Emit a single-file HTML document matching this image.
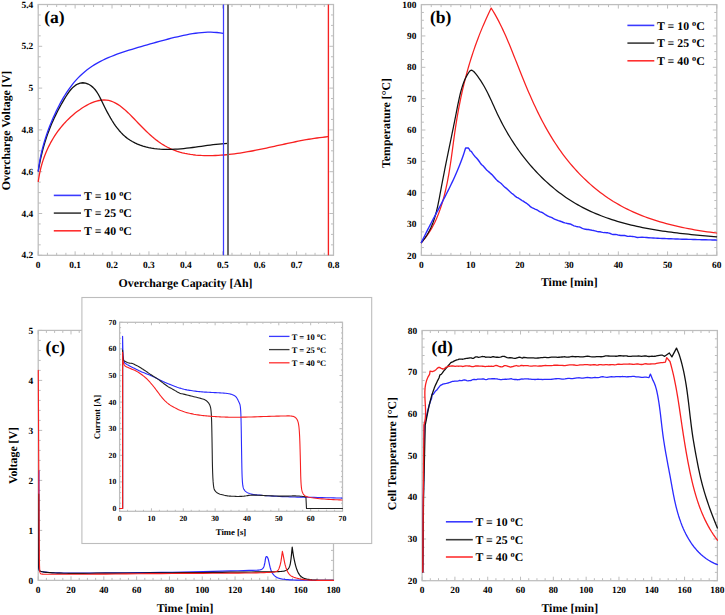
<!DOCTYPE html>
<html><head><meta charset="utf-8"><style>
html,body{margin:0;padding:0;background:#fff;}
svg{display:block;}
text{font-family:"Liberation Serif", serif;font-weight:bold;fill:#000;text-rendering:geometricPrecision;}
</style></head><body>
<svg width="725" height="615" viewBox="0 0 725 615">
<rect width="725" height="615" fill="#fff"/>
<rect x="38.2" y="4.5" width="295.3" height="250.8" fill="none" stroke="#bdbdbd" stroke-width="1.25"/>
<path d="M38.20,255.3 v-4 M38.20,4.5 v4 M47.43,255.3 v-2.5 M47.43,4.5 v2.5 M56.66,255.3 v-2.5 M56.66,4.5 v2.5 M65.88,255.3 v-2.5 M65.88,4.5 v2.5 M75.11,255.3 v-4 M75.11,4.5 v4 M84.34,255.3 v-2.5 M84.34,4.5 v2.5 M93.57,255.3 v-2.5 M93.57,4.5 v2.5 M102.80,255.3 v-2.5 M102.80,4.5 v2.5 M112.03,255.3 v-4 M112.03,4.5 v4 M121.25,255.3 v-2.5 M121.25,4.5 v2.5 M130.48,255.3 v-2.5 M130.48,4.5 v2.5 M139.71,255.3 v-2.5 M139.71,4.5 v2.5 M148.94,255.3 v-4 M148.94,4.5 v4 M158.17,255.3 v-2.5 M158.17,4.5 v2.5 M167.39,255.3 v-2.5 M167.39,4.5 v2.5 M176.62,255.3 v-2.5 M176.62,4.5 v2.5 M185.85,255.3 v-4 M185.85,4.5 v4 M195.08,255.3 v-2.5 M195.08,4.5 v2.5 M204.31,255.3 v-2.5 M204.31,4.5 v2.5 M213.53,255.3 v-2.5 M213.53,4.5 v2.5 M222.76,255.3 v-4 M222.76,4.5 v4 M231.99,255.3 v-2.5 M231.99,4.5 v2.5 M241.22,255.3 v-2.5 M241.22,4.5 v2.5 M250.45,255.3 v-2.5 M250.45,4.5 v2.5 M259.68,255.3 v-4 M259.68,4.5 v4 M268.90,255.3 v-2.5 M268.90,4.5 v2.5 M278.13,255.3 v-2.5 M278.13,4.5 v2.5 M287.36,255.3 v-2.5 M287.36,4.5 v2.5 M296.59,255.3 v-4 M296.59,4.5 v4 M305.82,255.3 v-2.5 M305.82,4.5 v2.5 M315.04,255.3 v-2.5 M315.04,4.5 v2.5 M324.27,255.3 v-2.5 M324.27,4.5 v2.5 M333.50,255.3 v-4 M333.50,4.5 v4 M38.2,255.30 h4 M333.5,255.30 h-4 M38.2,244.85 h2.5 M333.5,244.85 h-2.5 M38.2,234.40 h2.5 M333.5,234.40 h-2.5 M38.2,223.95 h2.5 M333.5,223.95 h-2.5 M38.2,213.50 h4 M333.5,213.50 h-4 M38.2,203.05 h2.5 M333.5,203.05 h-2.5 M38.2,192.60 h2.5 M333.5,192.60 h-2.5 M38.2,182.15 h2.5 M333.5,182.15 h-2.5 M38.2,171.70 h4 M333.5,171.70 h-4 M38.2,161.25 h2.5 M333.5,161.25 h-2.5 M38.2,150.80 h2.5 M333.5,150.80 h-2.5 M38.2,140.35 h2.5 M333.5,140.35 h-2.5 M38.2,129.90 h4 M333.5,129.90 h-4 M38.2,119.45 h2.5 M333.5,119.45 h-2.5 M38.2,109.00 h2.5 M333.5,109.00 h-2.5 M38.2,98.55 h2.5 M333.5,98.55 h-2.5 M38.2,88.10 h4 M333.5,88.10 h-4 M38.2,77.65 h2.5 M333.5,77.65 h-2.5 M38.2,67.20 h2.5 M333.5,67.20 h-2.5 M38.2,56.75 h2.5 M333.5,56.75 h-2.5 M38.2,46.30 h4 M333.5,46.30 h-4 M38.2,35.85 h2.5 M333.5,35.85 h-2.5 M38.2,25.40 h2.5 M333.5,25.40 h-2.5 M38.2,14.95 h2.5 M333.5,14.95 h-2.5 M38.2,4.50 h4 M333.5,4.50 h-4 " stroke="#bdbdbd" stroke-width="1" fill="none"/>
<text x="38.20" y="267.90" font-size="9.4" text-anchor="middle">0</text>
<text x="75.11" y="267.90" font-size="9.4" text-anchor="middle">0.1</text>
<text x="112.03" y="267.90" font-size="9.4" text-anchor="middle">0.2</text>
<text x="148.94" y="267.90" font-size="9.4" text-anchor="middle">0.3</text>
<text x="185.85" y="267.90" font-size="9.4" text-anchor="middle">0.4</text>
<text x="222.76" y="267.90" font-size="9.4" text-anchor="middle">0.5</text>
<text x="259.67" y="267.90" font-size="9.4" text-anchor="middle">0.6</text>
<text x="296.59" y="267.90" font-size="9.4" text-anchor="middle">0.7</text>
<text x="333.50" y="267.90" font-size="9.4" text-anchor="middle">0.8</text>
<text x="33.20" y="258.40" font-size="9.4" text-anchor="end">4.2</text>
<text x="33.20" y="216.60" font-size="9.4" text-anchor="end">4.4</text>
<text x="33.20" y="174.80" font-size="9.4" text-anchor="end">4.6</text>
<text x="33.20" y="133.00" font-size="9.4" text-anchor="end">4.8</text>
<text x="33.20" y="91.20" font-size="9.4" text-anchor="end">5</text>
<text x="33.20" y="49.40" font-size="9.4" text-anchor="end">5.2</text>
<text x="33.20" y="7.60" font-size="9.4" text-anchor="end">5.4</text>
<path d="M38.30,181.40 L38.68,178.73 L39.12,176.06 L39.62,173.41 L40.19,170.77 L40.81,168.14 L41.50,165.52 L42.25,162.93 L43.06,160.35 L43.94,157.79 L44.87,155.25 L45.87,152.74 L46.94,150.25 L48.07,147.78 L49.26,145.35 L50.51,142.94 L51.83,140.57 L53.21,138.23 L54.66,135.93 L56.17,133.66 L57.74,131.43 L59.39,129.24 L61.09,127.09 L62.86,124.99 L64.70,122.93 L66.60,120.91 L68.57,118.95 L70.60,117.03 L72.70,115.17 L74.87,113.36 L77.10,111.60 L79.40,109.91 L81.76,108.28 L84.16,106.75 L86.61,105.33 L89.08,104.03 L91.57,102.88 L94.08,101.90 L96.58,101.09 L99.07,100.50 L101.55,100.12 L103.99,99.98 L106.39,100.09 L108.75,100.48 L111.06,101.12 L113.33,101.99 L115.56,103.07 L117.76,104.35 L119.92,105.80 L122.05,107.40 L124.15,109.13 L126.22,110.98 L128.28,112.91 L130.31,114.91 L132.33,116.97 L134.33,119.05 L136.33,121.14 L138.31,123.22 L140.29,125.28 L142.27,127.30 L144.26,129.28 L146.25,131.23 L148.26,133.12 L150.28,134.97 L152.32,136.76 L154.38,138.48 L156.47,140.14 L158.60,141.73 L160.76,143.24 L162.96,144.67 L165.21,146.01 L167.51,147.27 L169.86,148.42 L172.26,149.48 L174.72,150.44 L177.23,151.31 L179.78,152.09 L182.37,152.78 L185.00,153.38 L187.67,153.91 L190.36,154.36 L193.08,154.73 L195.82,155.04 L198.58,155.28 L201.36,155.46 L204.15,155.57 L206.94,155.63 L209.74,155.64 L212.53,155.60 L215.33,155.51 L218.11,155.38 L220.88,155.20 L223.64,154.99 L226.39,154.75 L229.12,154.47 L231.84,154.16 L234.55,153.82 L237.25,153.45 L239.95,153.05 L242.63,152.63 L245.31,152.19 L247.97,151.73 L250.63,151.24 L253.29,150.74 L255.94,150.22 L258.58,149.69 L261.23,149.15 L263.86,148.59 L266.50,148.03 L269.13,147.46 L271.76,146.88 L274.39,146.30 L277.02,145.72 L279.66,145.14 L282.29,144.56 L284.92,143.99 L287.56,143.41 L290.20,142.85 L292.85,142.30 L295.50,141.75 L298.15,141.22 L300.81,140.70 L303.48,140.20 L306.16,139.72 L308.84,139.25 L311.53,138.81 L314.23,138.39 L316.94,138.00 L319.66,137.63 L322.40,137.29 L325.14,136.98 L327.90,136.70" stroke="#f82020" stroke-width="1.3" fill="none" stroke-linejoin="round" stroke-linecap="round"/>
<path d="M38.30,171.00 L38.81,168.01 L39.35,165.05 L39.92,162.12 L40.52,159.22 L41.16,156.35 L41.84,153.50 L42.55,150.67 L43.30,147.86 L44.09,145.08 L44.91,142.31 L45.78,139.56 L46.69,136.83 L47.64,134.11 L48.63,131.41 L49.66,128.71 L50.74,126.03 L51.86,123.35 L53.03,120.68 L54.25,118.02 L55.51,115.36 L56.82,112.70 L58.19,110.05 L59.60,107.39 L61.06,104.73 L62.58,102.07 L64.15,99.40 L65.77,96.73 L67.46,94.10 L69.24,91.58 L71.13,89.24 L73.14,87.15 L75.30,85.39 L77.63,84.02 L80.15,83.11 L82.83,82.76 L85.54,83.09 L88.18,84.05 L90.68,85.51 L92.98,87.37 L95.01,89.49 L96.74,91.79 L98.25,94.24 L99.61,96.78 L100.91,99.41 L102.20,102.07 L103.52,104.76 L104.86,107.46 L106.24,110.17 L107.65,112.87 L109.11,115.54 L110.61,118.18 L112.18,120.77 L113.81,123.31 L115.50,125.77 L117.28,128.16 L119.13,130.45 L121.07,132.63 L123.11,134.69 L125.24,136.63 L127.48,138.42 L129.83,140.06 L132.29,141.54 L134.84,142.88 L137.48,144.07 L140.19,145.13 L142.96,146.05 L145.78,146.85 L148.64,147.53 L151.52,148.09 L154.42,148.55 L157.32,148.90 L160.24,149.15 L163.16,149.32 L166.09,149.41 L169.02,149.41 L171.96,149.35 L174.90,149.22 L177.84,149.04 L180.79,148.81 L183.73,148.53 L186.68,148.21 L189.63,147.86 L192.58,147.49 L195.52,147.10 L198.47,146.69 L201.41,146.28 L204.34,145.88 L207.27,145.47 L210.20,145.08 L213.12,144.72 L216.03,144.37 L218.94,144.07 L221.83,143.80 L224.72,143.57 L227.60,143.40" stroke="#111111" stroke-width="1.3" fill="none" stroke-linejoin="round" stroke-linecap="round"/>
<path d="M38.30,171.00 L38.67,167.96 L39.09,164.92 L39.58,161.89 L40.13,158.86 L40.74,155.83 L41.40,152.81 L42.12,149.80 L42.89,146.80 L43.71,143.80 L44.59,140.81 L45.52,137.83 L46.50,134.86 L47.53,131.91 L48.61,128.96 L49.74,126.03 L50.91,123.12 L52.12,120.21 L53.38,117.33 L54.69,114.46 L56.03,111.60 L57.42,108.77 L58.84,105.95 L60.31,103.16 L61.83,100.40 L63.40,97.68 L65.02,95.00 L66.69,92.37 L68.43,89.79 L70.23,87.27 L72.09,84.81 L74.02,82.43 L76.02,80.12 L78.10,77.89 L80.25,75.74 L82.47,73.68 L84.77,71.71 L87.13,69.82 L89.57,68.01 L92.07,66.30 L94.63,64.67 L97.26,63.12 L99.94,61.66 L102.68,60.26 L105.46,58.94 L108.29,57.68 L111.16,56.48 L114.07,55.33 L117.00,54.23 L119.97,53.17 L122.96,52.16 L125.97,51.17 L128.99,50.22 L132.02,49.29 L135.06,48.38 L138.11,47.48 L141.15,46.59 L144.19,45.71 L147.22,44.83 L150.25,43.96 L153.27,43.10 L156.29,42.25 L159.31,41.41 L162.33,40.59 L165.34,39.78 L168.35,39.00 L171.37,38.23 L174.38,37.49 L177.40,36.77 L180.42,36.08 L183.44,35.42 L186.46,34.79 L189.49,34.22 L192.53,33.70 L195.56,33.25 L198.61,32.86 L201.65,32.56 L204.71,32.34 L207.77,32.22 L210.84,32.19 L213.92,32.28 L217.00,32.49 L220.10,32.83 L223.20,33.30" stroke="#2a2aff" stroke-width="1.3" fill="none" stroke-linejoin="round" stroke-linecap="round"/>
<path d="M223.5,4.5 V255.3" stroke="#3c3cff" stroke-width="1.25"/>
<path d="M228,4.5 V255.3" stroke="#6a6a6a" stroke-width="2"/>
<path d="M328.4,4.5 V255.3" stroke="#f52222" stroke-width="1.35"/>
<path d="M53.8,195.4 H81" stroke="#3a3aff" stroke-width="1.6"/>
<text x="84.1" y="199.79" font-size="11.8">T = 10 <tspan font-size="8.26" dy="-4.25">o</tspan><tspan dy="4.25">C</tspan></text>
<path d="M53.8,213.1 H81" stroke="#3c3c3c" stroke-width="1.6"/>
<text x="84.1" y="217.49" font-size="11.8">T = 25 <tspan font-size="8.26" dy="-4.25">o</tspan><tspan dy="4.25">C</tspan></text>
<path d="M53.8,230.8 H81" stroke="#ff3030" stroke-width="1.6"/>
<text x="84.1" y="235.19" font-size="11.8">T = 40 <tspan font-size="8.26" dy="-4.25">o</tspan><tspan dy="4.25">C</tspan></text>
<text x="185.5" y="286.71" font-size="11.85" text-anchor="middle">Overcharge Capacity [Ah]</text>
<text transform="translate(6,130.5) rotate(-90)" x="0" y="3.91" font-size="11.85" text-anchor="middle">Overcharge Voltage [V]</text>
<text x="44.2" y="22.9" font-size="17.5">(a)</text>
<rect x="421.4" y="4.6" width="295.4" height="250.8" fill="none" stroke="#bdbdbd" stroke-width="1.25"/>
<path d="M421.40,255.4 v-4 M421.40,4.6 v4 M431.25,255.4 v-2.5 M431.25,4.6 v2.5 M441.09,255.4 v-2.5 M441.09,4.6 v2.5 M450.94,255.4 v-2.5 M450.94,4.6 v2.5 M460.79,255.4 v-2.5 M460.79,4.6 v2.5 M470.63,255.4 v-4 M470.63,4.6 v4 M480.48,255.4 v-2.5 M480.48,4.6 v2.5 M490.33,255.4 v-2.5 M490.33,4.6 v2.5 M500.17,255.4 v-2.5 M500.17,4.6 v2.5 M510.02,255.4 v-2.5 M510.02,4.6 v2.5 M519.87,255.4 v-4 M519.87,4.6 v4 M529.71,255.4 v-2.5 M529.71,4.6 v2.5 M539.56,255.4 v-2.5 M539.56,4.6 v2.5 M549.41,255.4 v-2.5 M549.41,4.6 v2.5 M559.25,255.4 v-2.5 M559.25,4.6 v2.5 M569.10,255.4 v-4 M569.10,4.6 v4 M578.95,255.4 v-2.5 M578.95,4.6 v2.5 M588.79,255.4 v-2.5 M588.79,4.6 v2.5 M598.64,255.4 v-2.5 M598.64,4.6 v2.5 M608.49,255.4 v-2.5 M608.49,4.6 v2.5 M618.33,255.4 v-4 M618.33,4.6 v4 M628.18,255.4 v-2.5 M628.18,4.6 v2.5 M638.03,255.4 v-2.5 M638.03,4.6 v2.5 M647.87,255.4 v-2.5 M647.87,4.6 v2.5 M657.72,255.4 v-2.5 M657.72,4.6 v2.5 M667.57,255.4 v-4 M667.57,4.6 v4 M677.41,255.4 v-2.5 M677.41,4.6 v2.5 M687.26,255.4 v-2.5 M687.26,4.6 v2.5 M697.11,255.4 v-2.5 M697.11,4.6 v2.5 M706.95,255.4 v-2.5 M706.95,4.6 v2.5 M716.80,255.4 v-4 M716.80,4.6 v4 M421.4,255.40 h4 M716.8,255.40 h-4 M421.4,247.56 h2.5 M716.8,247.56 h-2.5 M421.4,239.72 h2.5 M716.8,239.72 h-2.5 M421.4,231.89 h2.5 M716.8,231.89 h-2.5 M421.4,224.05 h4 M716.8,224.05 h-4 M421.4,216.21 h2.5 M716.8,216.21 h-2.5 M421.4,208.38 h2.5 M716.8,208.38 h-2.5 M421.4,200.54 h2.5 M716.8,200.54 h-2.5 M421.4,192.70 h4 M716.8,192.70 h-4 M421.4,184.86 h2.5 M716.8,184.86 h-2.5 M421.4,177.03 h2.5 M716.8,177.03 h-2.5 M421.4,169.19 h2.5 M716.8,169.19 h-2.5 M421.4,161.35 h4 M716.8,161.35 h-4 M421.4,153.51 h2.5 M716.8,153.51 h-2.5 M421.4,145.68 h2.5 M716.8,145.68 h-2.5 M421.4,137.84 h2.5 M716.8,137.84 h-2.5 M421.4,130.00 h4 M716.8,130.00 h-4 M421.4,122.16 h2.5 M716.8,122.16 h-2.5 M421.4,114.32 h2.5 M716.8,114.32 h-2.5 M421.4,106.49 h2.5 M716.8,106.49 h-2.5 M421.4,98.65 h4 M716.8,98.65 h-4 M421.4,90.81 h2.5 M716.8,90.81 h-2.5 M421.4,82.97 h2.5 M716.8,82.97 h-2.5 M421.4,75.14 h2.5 M716.8,75.14 h-2.5 M421.4,67.30 h4 M716.8,67.30 h-4 M421.4,59.46 h2.5 M716.8,59.46 h-2.5 M421.4,51.62 h2.5 M716.8,51.62 h-2.5 M421.4,43.79 h2.5 M716.8,43.79 h-2.5 M421.4,35.95 h4 M716.8,35.95 h-4 M421.4,28.11 h2.5 M716.8,28.11 h-2.5 M421.4,20.28 h2.5 M716.8,20.28 h-2.5 M421.4,12.44 h2.5 M716.8,12.44 h-2.5 M421.4,4.60 h4 M716.8,4.60 h-4 " stroke="#bdbdbd" stroke-width="1" fill="none"/>
<text x="421.40" y="268.00" font-size="9.4" text-anchor="middle">0</text>
<text x="470.63" y="268.00" font-size="9.4" text-anchor="middle">10</text>
<text x="519.87" y="268.00" font-size="9.4" text-anchor="middle">20</text>
<text x="569.10" y="268.00" font-size="9.4" text-anchor="middle">30</text>
<text x="618.33" y="268.00" font-size="9.4" text-anchor="middle">40</text>
<text x="667.57" y="268.00" font-size="9.4" text-anchor="middle">50</text>
<text x="716.80" y="268.00" font-size="9.4" text-anchor="middle">60</text>
<text x="416.40" y="258.50" font-size="9.4" text-anchor="end">20</text>
<text x="416.40" y="227.15" font-size="9.4" text-anchor="end">30</text>
<text x="416.40" y="195.80" font-size="9.4" text-anchor="end">40</text>
<text x="416.40" y="164.45" font-size="9.4" text-anchor="end">50</text>
<text x="416.40" y="133.10" font-size="9.4" text-anchor="end">60</text>
<text x="416.40" y="101.75" font-size="9.4" text-anchor="end">70</text>
<text x="416.40" y="70.40" font-size="9.4" text-anchor="end">80</text>
<text x="416.40" y="39.05" font-size="9.4" text-anchor="end">90</text>
<text x="416.40" y="7.70" font-size="9.4" text-anchor="end">100</text>
<path d="M421.40,242.50 L423.42,240.18 L425.32,237.80 L427.12,235.38 L428.81,232.92 L430.40,230.41 L431.90,227.86 L433.31,225.28 L434.64,222.66 L435.89,220.01 L437.06,217.33 L438.17,214.62 L439.21,211.89 L440.20,209.14 L441.13,206.36 L442.01,203.57 L442.85,200.75 L443.64,197.93 L444.39,195.08 L445.10,192.23 L445.78,189.35 L446.42,186.47 L447.03,183.57 L447.61,180.66 L448.16,177.74 L448.68,174.82 L449.18,171.88 L449.66,168.93 L450.13,165.98 L450.57,163.02 L451.01,160.06 L451.43,157.09 L451.84,154.11 L452.25,151.14 L452.65,148.16 L453.05,145.18 L453.45,142.20 L453.86,139.22 L454.26,136.25 L454.68,133.27 L455.11,130.30 L455.54,127.33 L456.00,124.37 L456.47,121.41 L456.95,118.46 L457.45,115.51 L457.97,112.56 L458.50,109.63 L459.05,106.70 L459.62,103.77 L460.21,100.85 L460.81,97.94 L461.43,95.03 L462.07,92.12 L462.73,89.23 L463.41,86.34 L464.11,83.45 L464.83,80.57 L465.56,77.70 L466.32,74.83 L467.10,71.97 L467.89,69.12 L468.71,66.27 L469.55,63.43 L470.41,60.60 L471.30,57.77 L472.20,54.95 L473.13,52.14 L474.08,49.33 L475.05,46.53 L476.05,43.74 L477.06,40.95 L478.11,38.17 L479.17,35.40 L480.26,32.64 L481.38,29.88 L482.52,27.13 L483.68,24.39 L484.87,21.66 L486.08,18.93 L487.32,16.21 L488.59,13.50 L489.88,10.80 L491.20,8.10 L492.85,10.75 L494.44,13.43 L495.98,16.15 L497.48,18.89 L498.93,21.66 L500.34,24.46 L501.72,27.28 L503.06,30.12 L504.38,32.98 L505.66,35.86 L506.93,38.75 L508.17,41.66 L509.39,44.59 L510.60,47.53 L511.80,50.48 L512.98,53.44 L514.16,56.40 L515.33,59.38 L516.50,62.35 L517.68,65.34 L518.86,68.32 L520.04,71.30 L521.23,74.29 L522.43,77.27 L523.65,80.25 L524.87,83.23 L526.11,86.20 L527.36,89.17 L528.63,92.13 L529.91,95.09 L531.21,98.03 L532.53,100.97 L533.87,103.90 L535.23,106.81 L536.61,109.72 L538.01,112.61 L539.44,115.48 L540.89,118.35 L542.37,121.19 L543.87,124.02 L545.41,126.84 L546.97,129.63 L548.56,132.40 L550.19,135.16 L551.85,137.89 L553.54,140.60 L555.27,143.28 L557.03,145.94 L558.83,148.58 L560.67,151.19 L562.55,153.77 L564.47,156.33 L566.43,158.85 L568.42,161.34 L570.46,163.81 L572.53,166.23 L574.64,168.63 L576.79,170.99 L578.97,173.31 L581.19,175.60 L583.45,177.85 L585.75,180.06 L588.08,182.22 L590.45,184.35 L592.85,186.43 L595.29,188.47 L597.77,190.46 L600.28,192.41 L602.83,194.31 L605.41,196.16 L608.02,197.97 L610.67,199.72 L613.35,201.42 L616.07,203.06 L618.82,204.65 L621.60,206.19 L624.41,207.68 L627.25,209.12 L630.12,210.50 L633.02,211.84 L635.94,213.12 L638.88,214.36 L641.85,215.56 L644.84,216.71 L647.86,217.81 L650.89,218.87 L653.93,219.89 L657.00,220.87 L660.08,221.81 L663.17,222.71 L666.28,223.57 L669.39,224.39 L672.52,225.18 L675.66,225.93 L678.80,226.65 L681.95,227.34 L685.10,227.99 L688.26,228.62 L691.42,229.21 L694.58,229.77 L697.73,230.31 L700.89,230.82 L704.04,231.30 L707.19,231.76 L710.34,232.20 L713.47,232.61 L716.60,233.00" stroke="#f82020" stroke-width="1.25" fill="none" stroke-linejoin="round" stroke-linecap="round"/>
<path d="M421.40,242.50 L423.29,240.24 L425.03,237.91 L426.65,235.51 L428.13,233.05 L429.49,230.54 L430.75,227.97 L431.90,225.35 L432.95,222.70 L433.92,220.00 L434.80,217.27 L435.62,214.50 L436.37,211.72 L437.06,208.91 L437.71,206.08 L438.31,203.24 L438.88,200.40 L439.43,197.55 L439.96,194.70 L440.48,191.86 L441.00,189.03 L441.53,186.21 L442.06,183.40 L442.59,180.60 L443.13,177.81 L443.67,175.03 L444.21,172.26 L444.76,169.49 L445.31,166.73 L445.87,163.97 L446.42,161.21 L446.98,158.45 L447.55,155.69 L448.11,152.93 L448.68,150.17 L449.25,147.40 L449.82,144.62 L450.39,141.84 L450.97,139.05 L451.54,136.25 L452.12,133.44 L452.69,130.62 L453.27,127.78 L453.85,124.93 L454.43,122.07 L455.01,119.18 L455.58,116.28 L456.16,113.36 L456.74,110.42 L457.32,107.46 L457.90,104.49 L458.51,101.52 L459.14,98.57 L459.81,95.65 L460.51,92.76 L461.27,89.93 L462.09,87.15 L462.98,84.45 L463.95,81.84 L465.00,79.32 L466.14,76.91 L467.39,74.62 L468.75,72.46 L470.23,70.70 L471.89,70.15 L473.75,71.48 L475.63,73.68 L477.40,75.96 L479.09,78.29 L480.69,80.67 L482.22,83.08 L483.68,85.53 L485.07,88.02 L486.42,90.54 L487.71,93.08 L488.97,95.65 L490.20,98.23 L491.41,100.82 L492.60,103.43 L493.79,106.05 L494.98,108.66 L496.17,111.28 L497.39,113.89 L498.63,116.49 L499.90,119.08 L501.20,121.65 L502.53,124.22 L503.90,126.76 L505.30,129.29 L506.73,131.81 L508.20,134.31 L509.69,136.79 L511.22,139.25 L512.78,141.69 L514.37,144.11 L515.99,146.51 L517.64,148.88 L519.32,151.24 L521.03,153.57 L522.77,155.88 L524.54,158.16 L526.34,160.42 L528.17,162.65 L530.03,164.85 L531.92,167.03 L533.83,169.17 L535.78,171.29 L537.75,173.38 L539.76,175.43 L541.79,177.46 L543.85,179.45 L545.93,181.41 L548.05,183.33 L550.19,185.22 L552.36,187.07 L554.55,188.89 L556.77,190.67 L559.02,192.41 L561.30,194.12 L563.60,195.78 L565.93,197.41 L568.28,198.99 L570.66,200.53 L573.06,202.03 L575.49,203.49 L577.95,204.90 L580.43,206.27 L582.93,207.60 L585.46,208.88 L588.01,210.12 L590.58,211.33 L593.17,212.49 L595.78,213.61 L598.42,214.69 L601.07,215.74 L603.73,216.75 L606.42,217.73 L609.12,218.67 L611.84,219.57 L614.57,220.45 L617.32,221.29 L620.08,222.10 L622.85,222.87 L625.63,223.62 L628.43,224.34 L631.24,225.03 L634.05,225.70 L636.88,226.34 L639.71,226.95 L642.55,227.53 L645.40,228.10 L648.25,228.64 L651.11,229.15 L653.98,229.65 L656.84,230.13 L659.71,230.58 L662.59,231.02 L665.46,231.44 L668.33,231.84 L671.21,232.22 L674.08,232.59 L676.96,232.94 L679.83,233.28 L682.69,233.61 L685.56,233.92 L688.42,234.23 L691.27,234.52 L694.12,234.80 L696.96,235.07 L699.79,235.34 L702.62,235.60 L705.44,235.85 L708.24,236.09 L711.04,236.33 L713.83,236.57 L716.60,236.80" stroke="#111111" stroke-width="1.25" fill="none" stroke-linejoin="round" stroke-linecap="round"/>
<path d="M421.40,242.50 L422.44,240.31 L423.50,238.13 L424.57,235.95 L425.65,233.77 L426.74,231.60 L427.84,229.44 L428.95,227.27 L430.06,225.11 L431.18,222.96 L432.31,220.80 L433.45,218.65 L434.58,216.50 L435.72,214.35 L436.86,212.20 L438.00,210.05 L439.14,207.90 L440.27,205.74 L441.41,203.59 L442.54,201.43 L443.66,199.28 L444.78,197.12 L445.89,194.95 L446.99,192.79 L448.08,190.61 L449.16,188.44 L450.23,186.26 L451.29,184.07 L452.33,181.88 L453.36,179.68 L454.37,177.48 L455.37,175.27 L456.34,173.05 L457.30,170.82 L458.24,168.58 L459.16,166.34 L460.05,164.08 L460.92,161.82 L461.77,159.54 L462.59,157.26 L463.39,154.96 L464.15,152.65 L464.89,150.33 L465.60,148.00 L468.30,148.00 L469.58,149.64 L470.00,150.89 L471.30,151.41 L472.60,153.34 L473.90,155.16 L475.20,156.71 L476.50,157.97 L477.80,159.47 L479.10,161.26 L480.40,163.18 L481.70,164.75 L483.00,165.82 L484.30,167.19 L485.60,168.77 L486.90,170.18 L488.20,171.34 L489.50,172.40 L490.80,173.63 L492.10,174.82 L493.40,176.20 L494.70,177.73 L496.00,179.30 L497.30,180.63 L498.60,181.59 L499.90,182.49 L501.20,183.53 L502.50,184.87 L503.80,186.32 L505.10,187.43 L506.40,188.37 L507.70,189.44 L509.00,190.85 L510.30,192.09 L511.60,193.21 L512.90,194.09 L514.20,195.20 L515.50,196.43 L516.80,197.32 L518.10,197.89 L519.40,198.74 L520.70,199.64 L522.00,200.51 L523.30,201.14 L524.60,202.09 L525.90,202.87 L527.20,203.79 L528.50,204.86 L529.80,206.12 L531.10,207.16 L532.40,207.84 L533.70,208.46 L535.00,209.04 L536.30,209.58 L537.60,210.21 L538.90,211.12 L540.20,211.82 L541.50,212.23 L542.80,212.91 L544.10,213.78 L545.40,214.65 L546.70,215.32 L548.00,216.21 L549.30,216.71 L550.60,217.06 L551.90,217.58 L553.20,218.36 L554.50,219.04 L555.80,219.56 L557.10,220.06 L558.40,220.68 L559.70,221.03 L561.00,221.47 L562.30,222.01 L563.60,222.52 L564.90,222.84 L566.20,223.08 L567.50,223.54 L568.80,223.75 L570.10,223.97 L571.40,224.51 L572.70,225.18 L574.00,225.80 L575.30,226.20 L576.60,226.58 L577.90,226.79 L579.20,226.90 L580.50,227.39 L581.80,228.03 L583.10,228.62 L584.40,228.96 L585.70,229.23 L587.00,229.49 L588.30,229.51 L589.60,229.79 L590.90,230.01 L592.20,230.34 L593.50,230.44 L594.80,230.80 L596.10,231.20 L597.40,231.58 L598.70,231.72 L600.00,231.74 L601.30,232.08 L602.60,232.40 L603.90,232.65 L605.20,232.57 L606.50,232.73 L607.80,232.82 L609.10,233.11 L610.40,233.53 L611.70,234.16 L613.00,234.51 L614.30,234.46 L615.60,234.45 L616.90,234.68 L618.20,235.09 L619.50,235.24 L620.80,235.48 L622.10,235.52 L623.40,235.49 L624.70,235.46 L626.00,235.85 L627.30,236.24 L628.60,236.34 L629.90,236.26 L631.20,236.36 L632.50,236.48 L633.80,236.60 L635.10,236.87 L636.40,237.26 L637.70,237.49 L639.00,237.38 L642.11,237.25 L644.34,237.41 L646.57,237.57 L648.79,237.72 L651.02,237.86 L653.25,237.99 L655.47,238.11 L657.70,238.23 L659.92,238.34 L662.14,238.45 L664.36,238.55 L666.58,238.64 L668.80,238.73 L671.02,238.82 L673.23,238.89 L675.44,238.97 L677.65,239.04 L679.85,239.11 L682.05,239.18 L684.25,239.24 L686.44,239.30 L688.63,239.36 L690.81,239.41 L692.99,239.47 L695.17,239.52 L697.34,239.58 L699.50,239.63 L701.66,239.69 L703.81,239.74 L705.96,239.80 L708.10,239.85 L710.24,239.91 L712.36,239.97 L714.48,240.03 L716.60,240.10" stroke="#2a2aff" stroke-width="1.4" fill="none" stroke-linejoin="round" stroke-linecap="round"/>
<path d="M627.4,25.4 H654.3" stroke="#3a3aff" stroke-width="1.6"/>
<text x="657" y="29.79" font-size="11.8">T = 10 <tspan font-size="8.26" dy="-4.25">o</tspan><tspan dy="4.25">C</tspan></text>
<path d="M627.4,43.1 H654.3" stroke="#3c3c3c" stroke-width="1.6"/>
<text x="657" y="47.49" font-size="11.8">T = 25 <tspan font-size="8.26" dy="-4.25">o</tspan><tspan dy="4.25">C</tspan></text>
<path d="M627.4,60.8 H654.3" stroke="#ff3030" stroke-width="1.6"/>
<text x="657" y="65.19" font-size="11.8">T = 40 <tspan font-size="8.26" dy="-4.25">o</tspan><tspan dy="4.25">C</tspan></text>
<text x="569.3" y="286.41" font-size="11.85" text-anchor="middle">Time [min]</text>
<text transform="translate(386,123) rotate(-90)" x="0" y="3.91" font-size="11.85" text-anchor="middle">Temperature [°C]</text>
<text x="430" y="23.1" font-size="17.5">(b)</text>
<rect x="38.2" y="330.4" width="295.3" height="250.0" fill="none" stroke="#bdbdbd" stroke-width="1.25"/>
<path d="M38.20,580.4 v-4 M38.20,330.4 v4 M46.40,580.4 v-2.5 M46.40,330.4 v2.5 M54.61,580.4 v-2.5 M54.61,330.4 v2.5 M62.81,580.4 v-2.5 M62.81,330.4 v2.5 M71.01,580.4 v-4 M71.01,330.4 v4 M79.21,580.4 v-2.5 M79.21,330.4 v2.5 M87.42,580.4 v-2.5 M87.42,330.4 v2.5 M95.62,580.4 v-2.5 M95.62,330.4 v2.5 M103.82,580.4 v-4 M103.82,330.4 v4 M112.03,580.4 v-2.5 M112.03,330.4 v2.5 M120.23,580.4 v-2.5 M120.23,330.4 v2.5 M128.43,580.4 v-2.5 M128.43,330.4 v2.5 M136.63,580.4 v-4 M136.63,330.4 v4 M144.84,580.4 v-2.5 M144.84,330.4 v2.5 M153.04,580.4 v-2.5 M153.04,330.4 v2.5 M161.24,580.4 v-2.5 M161.24,330.4 v2.5 M169.44,580.4 v-4 M169.44,330.4 v4 M177.65,580.4 v-2.5 M177.65,330.4 v2.5 M185.85,580.4 v-2.5 M185.85,330.4 v2.5 M194.05,580.4 v-2.5 M194.05,330.4 v2.5 M202.26,580.4 v-4 M202.26,330.4 v4 M210.46,580.4 v-2.5 M210.46,330.4 v2.5 M218.66,580.4 v-2.5 M218.66,330.4 v2.5 M226.86,580.4 v-2.5 M226.86,330.4 v2.5 M235.07,580.4 v-4 M235.07,330.4 v4 M243.27,580.4 v-2.5 M243.27,330.4 v2.5 M251.47,580.4 v-2.5 M251.47,330.4 v2.5 M259.68,580.4 v-2.5 M259.68,330.4 v2.5 M267.88,580.4 v-4 M267.88,330.4 v4 M276.08,580.4 v-2.5 M276.08,330.4 v2.5 M284.28,580.4 v-2.5 M284.28,330.4 v2.5 M292.49,580.4 v-2.5 M292.49,330.4 v2.5 M300.69,580.4 v-4 M300.69,330.4 v4 M308.89,580.4 v-2.5 M308.89,330.4 v2.5 M317.09,580.4 v-2.5 M317.09,330.4 v2.5 M325.30,580.4 v-2.5 M325.30,330.4 v2.5 M333.50,580.4 v-4 M333.50,330.4 v4 M38.2,580.40 h4 M333.5,580.40 h-4 M38.2,570.40 h2.5 M333.5,570.40 h-2.5 M38.2,560.40 h2.5 M333.5,560.40 h-2.5 M38.2,550.40 h2.5 M333.5,550.40 h-2.5 M38.2,540.40 h2.5 M333.5,540.40 h-2.5 M38.2,530.40 h4 M333.5,530.40 h-4 M38.2,520.40 h2.5 M333.5,520.40 h-2.5 M38.2,510.40 h2.5 M333.5,510.40 h-2.5 M38.2,500.40 h2.5 M333.5,500.40 h-2.5 M38.2,490.40 h2.5 M333.5,490.40 h-2.5 M38.2,480.40 h4 M333.5,480.40 h-4 M38.2,470.40 h2.5 M333.5,470.40 h-2.5 M38.2,460.40 h2.5 M333.5,460.40 h-2.5 M38.2,450.40 h2.5 M333.5,450.40 h-2.5 M38.2,440.40 h2.5 M333.5,440.40 h-2.5 M38.2,430.40 h4 M333.5,430.40 h-4 M38.2,420.40 h2.5 M333.5,420.40 h-2.5 M38.2,410.40 h2.5 M333.5,410.40 h-2.5 M38.2,400.40 h2.5 M333.5,400.40 h-2.5 M38.2,390.40 h2.5 M333.5,390.40 h-2.5 M38.2,380.40 h4 M333.5,380.40 h-4 M38.2,370.40 h2.5 M333.5,370.40 h-2.5 M38.2,360.40 h2.5 M333.5,360.40 h-2.5 M38.2,350.40 h2.5 M333.5,350.40 h-2.5 M38.2,340.40 h2.5 M333.5,340.40 h-2.5 M38.2,330.40 h4 M333.5,330.40 h-4 " stroke="#bdbdbd" stroke-width="1" fill="none"/>
<text x="38.20" y="592.80" font-size="9.4" text-anchor="middle">0</text>
<text x="71.01" y="592.80" font-size="9.4" text-anchor="middle">20</text>
<text x="103.82" y="592.80" font-size="9.4" text-anchor="middle">40</text>
<text x="136.63" y="592.80" font-size="9.4" text-anchor="middle">60</text>
<text x="169.44" y="592.80" font-size="9.4" text-anchor="middle">80</text>
<text x="202.26" y="592.80" font-size="9.4" text-anchor="middle">100</text>
<text x="235.07" y="592.80" font-size="9.4" text-anchor="middle">120</text>
<text x="267.88" y="592.80" font-size="9.4" text-anchor="middle">140</text>
<text x="300.69" y="592.80" font-size="9.4" text-anchor="middle">160</text>
<text x="333.50" y="592.80" font-size="9.4" text-anchor="middle">180</text>
<text x="33.20" y="583.50" font-size="9.4" text-anchor="end">0</text>
<text x="33.20" y="533.50" font-size="9.4" text-anchor="end">1</text>
<text x="33.20" y="483.50" font-size="9.4" text-anchor="end">2</text>
<text x="33.20" y="433.50" font-size="9.4" text-anchor="end">3</text>
<text x="33.20" y="383.50" font-size="9.4" text-anchor="end">4</text>
<text x="33.20" y="333.50" font-size="9.4" text-anchor="end">5</text>
<path d="M38.90,470.80 L38.90,472.19 L38.90,474.98 L38.89,479.16 L38.88,484.74 L38.88,491.71 L38.87,500.07 L38.86,509.83 L38.84,520.98 L38.83,530.90 L38.82,539.59 L38.82,547.05 L38.81,553.28 L38.80,558.28 L38.80,562.05 L38.80,564.59 L38.80,565.91 L38.83,567.07 L38.90,568.09 L39.01,568.96 L39.14,569.69 L39.32,570.27 L39.52,570.70 L39.76,570.98 L40.04,571.12 L40.39,571.25 L40.81,571.38 L41.31,571.51 L41.89,571.64 L42.54,571.76 L43.26,571.88 L44.06,571.99 L44.94,572.11 L45.92,572.21 L47.02,572.32 L48.22,572.42 L49.53,572.51 L50.95,572.60 L52.48,572.68 L54.12,572.76 L55.88,572.84 L57.75,572.90 L59.75,572.96 L61.88,573.01 L64.12,573.04 L66.50,573.07 L69.00,573.09 L71.62,573.10 L74.38,573.10 L78.28,573.09 L83.34,573.06 L89.56,573.03 L96.94,572.98 L105.47,572.91 L115.16,572.84 L126.00,572.75 L138.00,572.65 L149.67,572.53 L161.02,572.39 L172.03,572.24 L182.72,572.06 L193.08,571.87 L203.11,571.66 L212.81,571.42 L222.19,571.17 L230.48,570.95 L237.68,570.75 L243.80,570.58 L248.83,570.44 L252.77,570.32 L255.63,570.23 L257.41,570.17 L258.09,570.13 L258.74,570.07 L259.34,569.99 L259.90,569.89 L260.42,569.76 L260.90,569.62 L261.33,569.45 L261.72,569.26 L262.07,569.04 L262.40,568.79 L262.71,568.50 L262.99,568.17 L263.26,567.80 L263.50,567.40 L263.72,566.95 L263.91,566.46 L264.09,565.94 L264.26,565.37 L264.42,564.76 L264.57,564.11 L264.72,563.42 L264.87,562.68 L265.01,561.90 L265.14,561.08 L265.26,560.22 L265.39,559.45 L265.51,558.77 L265.64,558.18 L265.76,557.69 L265.89,557.29 L266.01,556.98 L266.14,556.76 L266.26,556.64 L266.39,556.56 L266.53,556.53 L266.67,556.55 L266.82,556.62 L266.98,556.74 L267.14,556.90 L267.31,557.12 L267.49,557.38 L267.66,557.68 L267.82,558.02 L267.98,558.39 L268.12,558.81 L268.27,559.26 L268.41,559.74 L268.54,560.27 L268.66,560.83 L268.79,561.42 L268.93,562.04 L269.08,562.68 L269.23,563.35 L269.38,564.04 L269.54,564.76 L269.71,565.51 L269.89,566.29 L270.07,567.03 L270.25,567.74 L270.44,568.42 L270.63,569.06 L270.83,569.67 L271.04,570.25 L271.24,570.79 L271.46,571.31 L271.70,571.82 L271.97,572.33 L272.26,572.84 L272.59,573.36 L272.94,573.87 L273.32,574.38 L273.73,574.89 L274.17,575.41 L274.66,575.89 L275.20,576.34 L275.80,576.76 L276.45,577.14 L277.15,577.50 L277.91,577.83 L278.72,578.12 L279.58,578.38 L280.53,578.62 L281.56,578.85 L282.68,579.06 L283.89,579.24 L285.18,579.41 L286.56,579.56 L288.02,579.69 L289.58,579.81 L291.53,579.91 L293.90,580.00 L296.67,580.08 L299.85,580.15 L303.44,580.20 L307.44,580.25 L311.84,580.29 L316.66,580.31 L320.87,580.33 L324.48,580.35 L327.48,580.37 L329.89,580.38 L331.70,580.39 L332.90,580.40 L333.50,580.40" stroke="#2a2aff" stroke-width="1.2" fill="none" stroke-linejoin="round" stroke-linecap="round"/>
<path d="M38.70,494.00 L38.70,495.03 L38.70,497.09 L38.70,500.19 L38.70,504.31 L38.70,509.47 L38.70,515.66 L38.70,522.88 L38.70,531.12 L38.70,538.51 L38.70,545.02 L38.71,550.67 L38.72,555.45 L38.72,559.37 L38.73,562.41 L38.74,564.59 L38.76,565.91 L38.80,567.07 L38.87,568.09 L38.98,568.96 L39.12,569.69 L39.29,570.27 L39.49,570.70 L39.72,570.98 L39.98,571.12 L40.32,571.25 L40.73,571.39 L41.22,571.52 L41.78,571.65 L42.42,571.78 L43.13,571.91 L43.92,572.04 L44.78,572.16 L45.75,572.28 L46.83,572.40 L48.02,572.51 L49.31,572.62 L50.71,572.72 L52.22,572.81 L53.84,572.91 L55.56,572.99 L57.42,573.07 L59.42,573.14 L61.54,573.19 L63.81,573.23 L66.20,573.27 L68.73,573.29 L71.40,573.30 L74.20,573.30 L78.15,573.29 L83.25,573.28 L89.50,573.25 L96.90,573.22 L105.45,573.18 L115.15,573.14 L126.00,573.08 L138.00,573.02 L149.67,572.95 L161.02,572.88 L172.03,572.79 L182.72,572.71 L193.08,572.61 L203.11,572.51 L212.81,572.41 L222.19,572.29 L230.71,572.20 L238.39,572.11 L245.22,572.04 L251.20,571.98 L256.34,571.94 L260.62,571.91 L264.06,571.90 L266.64,571.90 L269.07,571.89 L271.33,571.86 L273.43,571.82 L275.37,571.76 L277.14,571.69 L278.76,571.60 L280.21,571.51 L281.49,571.39 L282.68,571.24 L283.75,571.05 L284.72,570.82 L285.58,570.55 L286.34,570.25 L286.99,569.90 L287.53,569.51 L287.97,569.09 L288.37,568.61 L288.75,568.07 L289.08,567.48 L289.39,566.84 L289.66,566.14 L289.90,565.39 L290.11,564.58 L290.29,563.72 L290.46,562.75 L290.63,561.68 L290.80,560.51 L290.97,559.24 L291.14,557.86 L291.30,556.38 L291.47,554.79 L291.63,553.11 L291.77,551.63 L291.90,550.36 L292.00,549.31 L292.08,548.47 L292.14,547.83 L292.18,547.41 L292.20,547.20 L292.22,547.36 L292.27,547.67 L292.33,548.14 L292.42,548.76 L292.53,549.54 L292.66,550.48 L292.81,551.58 L292.99,552.83 L293.18,554.10 L293.40,555.41 L293.64,556.74 L293.91,558.11 L294.19,559.50 L294.50,560.92 L294.82,562.36 L295.18,563.84 L295.53,565.24 L295.90,566.56 L296.28,567.80 L296.67,568.97 L297.07,570.06 L297.47,571.08 L297.89,572.02 L298.31,572.88 L298.77,573.68 L299.25,574.43 L299.76,575.11 L300.29,575.74 L300.86,576.30 L301.45,576.81 L302.07,577.26 L302.72,577.64 L303.45,578.00 L304.25,578.33 L305.12,578.64 L306.08,578.91 L307.10,579.16 L308.20,579.38 L309.38,579.57 L310.62,579.73 L312.01,579.88 L313.52,580.00 L315.17,580.11 L316.95,580.19 L318.87,580.26 L320.91,580.31 L323.09,580.34 L325.41,580.36 L327.43,580.37 L329.16,580.38 L330.61,580.38 L331.77,580.39 L332.63,580.40 L333.21,580.40 L333.50,580.40" stroke="#111111" stroke-width="1.2" fill="none" stroke-linejoin="round" stroke-linecap="round"/>
<path d="M38.30,370.40 L38.31,372.11 L38.32,375.54 L38.35,380.67 L38.38,387.52 L38.42,396.09 L38.46,406.36 L38.52,418.35 L38.58,432.05 L38.64,445.21 L38.71,457.83 L38.77,469.91 L38.83,481.44 L38.89,492.44 L38.96,502.90 L39.02,512.81 L39.08,522.19 L39.14,530.64 L39.20,538.17 L39.25,544.78 L39.30,550.47 L39.35,555.23 L39.39,559.08 L39.43,562.00 L39.47,564.00 L39.51,565.79 L39.57,567.37 L39.63,568.73 L39.70,569.89 L39.77,570.84 L39.86,571.57 L39.95,572.09 L40.05,572.41 L40.16,572.69 L40.27,572.95 L40.39,573.18 L40.51,573.39 L40.64,573.57 L40.78,573.72 L40.93,573.85 L41.07,573.95 L41.49,574.04 L42.18,574.11 L43.14,574.17 L44.36,574.21 L45.86,574.24 L47.62,574.25 L49.65,574.26 L51.95,574.24 L54.34,574.23 L56.81,574.23 L59.37,574.23 L62.03,574.23 L64.76,574.23 L67.59,574.23 L70.50,574.24 L73.50,574.26 L77.62,574.25 L82.88,574.23 L89.25,574.20 L96.75,574.15 L105.38,574.08 L115.12,574.00 L126.00,573.91 L138.00,573.79 L149.67,573.69 L161.02,573.60 L172.03,573.51 L182.72,573.44 L193.08,573.37 L203.11,573.32 L212.81,573.27 L222.19,573.23 L230.71,573.18 L238.39,573.12 L245.22,573.05 L251.20,572.97 L256.34,572.88 L260.62,572.78 L264.06,572.66 L266.64,572.54 L268.95,572.40 L270.97,572.25 L272.72,572.09 L274.18,571.91 L275.36,571.73 L276.26,571.53 L276.88,571.31 L277.22,571.09 L277.55,570.79 L277.87,570.43 L278.17,570.00 L278.47,569.50 L278.77,568.93 L279.05,568.29 L279.32,567.59 L279.58,566.81 L279.83,566.03 L280.06,565.23 L280.28,564.42 L280.47,563.60 L280.66,562.77 L280.83,561.93 L280.98,561.08 L281.12,560.22 L281.25,559.37 L281.38,558.55 L281.50,557.73 L281.62,556.94 L281.74,556.16 L281.85,555.40 L281.95,554.66 L282.05,553.94 L282.14,553.30 L282.21,552.76 L282.27,552.31 L282.32,551.94 L282.36,551.67 L282.39,551.49 L282.40,551.40 L282.42,551.49 L282.46,551.67 L282.51,551.94 L282.59,552.31 L282.68,552.76 L282.79,553.30 L282.93,553.94 L283.07,554.66 L283.23,555.44 L283.40,556.26 L283.57,557.14 L283.75,558.06 L283.94,559.04 L284.14,560.06 L284.34,561.14 L284.56,562.26 L284.79,563.35 L285.03,564.41 L285.30,565.44 L285.58,566.43 L285.88,567.40 L286.19,568.32 L286.53,569.22 L286.88,570.08 L287.25,570.90 L287.64,571.67 L288.05,572.41 L288.48,573.09 L288.93,573.74 L289.40,574.34 L289.89,574.89 L290.41,575.41 L291.05,575.90 L291.84,576.37 L292.76,576.82 L293.82,577.25 L295.01,577.66 L296.34,578.05 L297.80,578.42 L299.40,578.78 L301.03,579.09 L302.70,579.36 L304.41,579.60 L306.14,579.80 L307.92,579.96 L309.72,580.09 L311.56,580.18 L313.44,580.23 L315.29,580.27 L317.12,580.31 L318.92,580.34 L320.70,580.36 L322.46,580.38 L324.20,580.39 L325.91,580.40 L327.59,580.40 L329.07,580.40 L330.34,580.40 L331.39,580.40 L332.23,580.40 L332.87,580.40 L333.29,580.40 L333.50,580.40" stroke="#f82020" stroke-width="1.15" fill="none" stroke-linejoin="round" stroke-linecap="round"/>
<text x="185" y="612.41" font-size="11.85" text-anchor="middle">Time [min]</text>
<text transform="translate(13,455.5) rotate(-90)" x="0" y="3.91" font-size="11.85" text-anchor="middle">Voltage [V]</text>
<text x="45.6" y="352.6" font-size="17.5">(c)</text>
<rect x="81.9" y="297.5" width="289.8" height="246" fill="#fff" stroke="#bdbdbd" stroke-width="1.1"/>
<rect x="119.6" y="322.3" width="222.9" height="189.0" fill="none" stroke="#bdbdbd" stroke-width="1.25"/>
<path d="M119.60,511.3 v-3 M119.60,322.3 v3 M127.56,511.3 v-1.5 M127.56,322.3 v1.5 M135.52,511.3 v-1.5 M135.52,322.3 v1.5 M143.48,511.3 v-1.5 M143.48,322.3 v1.5 M151.44,511.3 v-3 M151.44,322.3 v3 M159.40,511.3 v-1.5 M159.40,322.3 v1.5 M167.36,511.3 v-1.5 M167.36,322.3 v1.5 M175.32,511.3 v-1.5 M175.32,322.3 v1.5 M183.29,511.3 v-3 M183.29,322.3 v3 M191.25,511.3 v-1.5 M191.25,322.3 v1.5 M199.21,511.3 v-1.5 M199.21,322.3 v1.5 M207.17,511.3 v-1.5 M207.17,322.3 v1.5 M215.13,511.3 v-3 M215.13,322.3 v3 M223.09,511.3 v-1.5 M223.09,322.3 v1.5 M231.05,511.3 v-1.5 M231.05,322.3 v1.5 M239.01,511.3 v-1.5 M239.01,322.3 v1.5 M246.97,511.3 v-3 M246.97,322.3 v3 M254.93,511.3 v-1.5 M254.93,322.3 v1.5 M262.89,511.3 v-1.5 M262.89,322.3 v1.5 M270.85,511.3 v-1.5 M270.85,322.3 v1.5 M278.81,511.3 v-3 M278.81,322.3 v3 M286.77,511.3 v-1.5 M286.77,322.3 v1.5 M294.74,511.3 v-1.5 M294.74,322.3 v1.5 M302.70,511.3 v-1.5 M302.70,322.3 v1.5 M310.66,511.3 v-3 M310.66,322.3 v3 M318.62,511.3 v-1.5 M318.62,322.3 v1.5 M326.58,511.3 v-1.5 M326.58,322.3 v1.5 M334.54,511.3 v-1.5 M334.54,322.3 v1.5 M342.50,511.3 v-3 M342.50,322.3 v3 M119.6,508.51 h3 M342.5,508.51 h-3 M119.6,503.19 h1.5 M342.5,503.19 h-1.5 M119.6,497.87 h1.5 M342.5,497.87 h-1.5 M119.6,492.55 h1.5 M342.5,492.55 h-1.5 M119.6,487.23 h1.5 M342.5,487.23 h-1.5 M119.6,481.91 h3 M342.5,481.91 h-3 M119.6,476.59 h1.5 M342.5,476.59 h-1.5 M119.6,471.27 h1.5 M342.5,471.27 h-1.5 M119.6,465.95 h1.5 M342.5,465.95 h-1.5 M119.6,460.63 h1.5 M342.5,460.63 h-1.5 M119.6,455.30 h3 M342.5,455.30 h-3 M119.6,449.98 h1.5 M342.5,449.98 h-1.5 M119.6,444.66 h1.5 M342.5,444.66 h-1.5 M119.6,439.34 h1.5 M342.5,439.34 h-1.5 M119.6,434.02 h1.5 M342.5,434.02 h-1.5 M119.6,428.70 h3 M342.5,428.70 h-3 M119.6,423.38 h1.5 M342.5,423.38 h-1.5 M119.6,418.06 h1.5 M342.5,418.06 h-1.5 M119.6,412.74 h1.5 M342.5,412.74 h-1.5 M119.6,407.42 h1.5 M342.5,407.42 h-1.5 M119.6,402.10 h3 M342.5,402.10 h-3 M119.6,396.78 h1.5 M342.5,396.78 h-1.5 M119.6,391.46 h1.5 M342.5,391.46 h-1.5 M119.6,386.14 h1.5 M342.5,386.14 h-1.5 M119.6,380.82 h1.5 M342.5,380.82 h-1.5 M119.6,375.50 h3 M342.5,375.50 h-3 M119.6,370.18 h1.5 M342.5,370.18 h-1.5 M119.6,364.86 h1.5 M342.5,364.86 h-1.5 M119.6,359.54 h1.5 M342.5,359.54 h-1.5 M119.6,354.22 h1.5 M342.5,354.22 h-1.5 M119.6,348.90 h3 M342.5,348.90 h-3 M119.6,343.58 h1.5 M342.5,343.58 h-1.5 M119.6,338.26 h1.5 M342.5,338.26 h-1.5 M119.6,332.94 h1.5 M342.5,332.94 h-1.5 M119.6,327.62 h1.5 M342.5,327.62 h-1.5 M119.6,322.30 h3 M342.5,322.30 h-3 " stroke="#bdbdbd" stroke-width="1" fill="none"/>
<text x="119.60" y="520.97" font-size="7.8" text-anchor="middle">0</text>
<text x="151.44" y="520.97" font-size="7.8" text-anchor="middle">10</text>
<text x="183.29" y="520.97" font-size="7.8" text-anchor="middle">20</text>
<text x="215.13" y="520.97" font-size="7.8" text-anchor="middle">30</text>
<text x="246.97" y="520.97" font-size="7.8" text-anchor="middle">40</text>
<text x="278.81" y="520.97" font-size="7.8" text-anchor="middle">50</text>
<text x="310.66" y="520.97" font-size="7.8" text-anchor="middle">60</text>
<text x="342.50" y="520.97" font-size="7.8" text-anchor="middle">70</text>
<text x="116.30" y="511.08" font-size="7.8" text-anchor="end">0</text>
<text x="116.30" y="484.48" font-size="7.8" text-anchor="end">10</text>
<text x="116.30" y="457.88" font-size="7.8" text-anchor="end">20</text>
<text x="116.30" y="431.28" font-size="7.8" text-anchor="end">30</text>
<text x="116.30" y="404.68" font-size="7.8" text-anchor="end">40</text>
<text x="116.30" y="378.08" font-size="7.8" text-anchor="end">50</text>
<text x="116.30" y="351.47" font-size="7.8" text-anchor="end">60</text>
<text x="116.30" y="324.87" font-size="7.8" text-anchor="end">70</text>
<path d="M119.60,508.50 L122.60,508.50 L122.60,336.30 L122.61,336.70 L122.62,337.50 L122.65,338.70 L122.68,340.30 L122.72,342.30 L122.76,344.70 L122.82,347.50 L122.88,350.70 L123.00,353.54 L123.17,356.03 L123.40,358.16 L123.68,359.94 L124.01,361.36 L124.40,362.42 L124.85,363.12 L125.35,363.47 L125.91,363.84 L126.54,364.23 L127.22,364.64 L127.97,365.06 L128.79,365.51 L129.66,365.97 L130.60,366.45 L131.60,366.95 L132.56,367.43 L133.49,367.90 L134.38,368.35 L135.24,368.78 L136.06,369.19 L136.85,369.59 L137.59,369.97 L138.31,370.33 L139.02,370.68 L139.73,371.02 L140.44,371.35 L141.16,371.67 L141.87,371.98 L142.58,372.28 L143.29,372.56 L144.01,372.84 L144.72,373.11 L145.43,373.39 L146.14,373.67 L146.86,373.95 L147.57,374.24 L148.28,374.52 L148.99,374.81 L149.71,375.09 L150.42,375.39 L151.13,375.70 L151.84,376.01 L152.56,376.34 L153.27,376.67 L153.98,377.02 L154.69,377.37 L155.41,377.73 L156.12,378.09 L156.83,378.45 L157.54,378.81 L158.26,379.17 L158.97,379.52 L159.68,379.87 L160.39,380.22 L161.11,380.58 L161.85,380.93 L162.61,381.29 L163.40,381.65 L164.22,382.02 L165.07,382.40 L165.94,382.77 L166.84,383.16 L167.76,383.54 L168.75,383.95 L169.79,384.37 L170.88,384.80 L172.04,385.25 L173.25,385.72 L174.53,386.20 L175.86,386.69 L177.24,387.21 L178.63,387.69 L180.01,388.13 L181.40,388.55 L182.78,388.93 L184.16,389.28 L185.54,389.59 L186.91,389.88 L188.29,390.12 L189.66,390.36 L191.04,390.58 L192.42,390.79 L193.80,390.98 L195.19,391.16 L196.57,391.33 L197.96,391.48 L199.34,391.62 L200.73,391.75 L202.11,391.87 L203.50,391.98 L204.88,392.08 L206.26,392.17 L207.64,392.25 L209.01,392.32 L210.39,392.38 L211.76,392.45 L213.14,392.51 L214.51,392.58 L215.89,392.65 L217.26,392.72 L218.64,392.79 L220.01,392.86 L221.39,392.94 L222.68,393.02 L223.88,393.11 L225.00,393.21 L226.03,393.32 L226.97,393.43 L227.83,393.55 L228.61,393.68 L229.29,393.82 L229.97,393.97 L230.62,394.15 L231.26,394.33 L231.89,394.54 L232.50,394.76 L233.09,395.00 L233.67,395.26 L234.23,395.54 L234.77,395.86 L235.27,396.24 L235.75,396.67 L236.20,397.15 L236.62,397.69 L237.02,398.27 L237.38,398.91 L237.72,399.59 L238.04,400.25 L238.34,400.87 L238.62,401.46 L238.88,402.02 L239.12,402.54 L239.35,403.03 L239.56,403.49 L239.74,403.91 L239.92,404.48 L240.08,405.19 L240.23,406.04 L240.37,407.03 L240.49,408.17 L240.61,409.45 L240.71,410.87 L240.79,412.43 L240.88,414.36 L240.96,416.65 L241.04,419.30 L241.11,422.32 L241.18,425.70 L241.25,429.45 L241.32,433.56 L241.38,438.04 L241.45,442.43 L241.51,446.73 L241.58,450.96 L241.65,455.09 L241.72,459.15 L241.79,463.12 L241.86,467.00 L241.94,470.80 L242.04,474.24 L242.16,477.31 L242.30,480.02 L242.47,482.36 L242.66,484.34 L242.88,485.95 L243.12,487.21 L243.38,488.09 L243.72,488.92 L244.15,489.69 L244.65,490.40 L245.23,491.05 L245.89,491.64 L246.63,492.17 L247.45,492.64 L248.35,493.06 L249.36,493.44 L250.48,493.78 L251.72,494.10 L253.06,494.38 L254.51,494.63 L256.08,494.84 L257.76,495.03 L259.54,495.17 L261.48,495.33 L263.58,495.48 L265.83,495.63 L268.23,495.79 L270.78,495.95 L273.48,496.11 L276.34,496.27 L279.36,496.43 L282.25,496.58 L285.03,496.70 L287.69,496.82 L290.23,496.91 L292.66,496.99 L294.97,497.05 L297.16,497.09 L299.24,497.11 L301.61,497.15 L304.27,497.20 L307.23,497.25 L310.49,497.32 L314.04,497.40 L317.89,497.49 L322.03,497.59 L326.47,497.71 L330.35,497.80 L333.68,497.89 L336.45,497.96 L338.67,498.02 L340.34,498.06 L341.45,498.09 L342.00,498.10" stroke="#2a2aff" stroke-width="1.1" fill="none" stroke-linejoin="round" stroke-linecap="round"/>
<path d="M119.60,508.50 L122.60,508.50 L122.60,350.00 L122.61,350.16 L122.62,350.48 L122.65,350.96 L122.68,351.59 L122.72,352.39 L122.76,353.35 L122.82,354.46 L122.88,355.74 L122.96,356.87 L123.06,357.86 L123.18,358.71 L123.32,359.42 L123.47,359.98 L123.65,360.40 L123.84,360.68 L124.06,360.82 L124.31,360.97 L124.62,361.14 L124.97,361.32 L125.36,361.51 L125.80,361.72 L126.28,361.94 L126.81,362.18 L127.39,362.43 L127.93,362.64 L128.45,362.83 L128.94,362.99 L129.41,363.11 L129.84,363.21 L130.25,363.27 L130.62,363.30 L130.98,363.30 L131.31,363.31 L131.63,363.34 L131.93,363.38 L132.22,363.44 L132.49,363.51 L132.75,363.60 L132.99,363.69 L133.21,363.81 L133.48,363.94 L133.79,364.09 L134.14,364.27 L134.53,364.46 L134.97,364.67 L135.45,364.91 L135.97,365.16 L136.53,365.44 L137.15,365.76 L137.82,366.13 L138.55,366.54 L139.33,367.01 L140.16,367.52 L141.05,368.07 L142.00,368.68 L143.00,369.32 L143.96,369.96 L144.89,370.57 L145.78,371.16 L146.64,371.74 L147.46,372.29 L148.25,372.83 L148.99,373.35 L149.71,373.85 L150.42,374.34 L151.13,374.82 L151.84,375.29 L152.56,375.76 L153.27,376.21 L153.98,376.65 L154.69,377.09 L155.41,377.51 L156.12,377.95 L156.83,378.41 L157.54,378.89 L158.26,379.38 L158.97,379.90 L159.68,380.42 L160.39,380.97 L161.11,381.53 L161.82,382.09 L162.53,382.63 L163.24,383.17 L163.96,383.70 L164.67,384.23 L165.38,384.74 L166.09,385.25 L166.81,385.75 L167.46,386.20 L168.04,386.60 L168.57,386.94 L169.03,387.23 L169.43,387.48 L169.77,387.67 L170.04,387.81 L170.26,387.89 L170.59,388.06 L171.04,388.29 L171.62,388.61 L172.31,388.99 L173.12,389.46 L174.06,389.99 L175.11,390.61 L176.29,391.29 L177.34,391.90 L178.28,392.41 L179.09,392.84 L179.78,393.18 L180.36,393.44 L180.81,393.61 L181.14,393.70 L181.36,393.70 L181.71,393.74 L182.22,393.83 L182.87,393.96 L183.66,394.14 L184.60,394.36 L185.68,394.62 L186.91,394.92 L188.29,395.28 L189.66,395.62 L191.04,395.97 L192.42,396.32 L193.80,396.66 L195.19,397.00 L196.57,397.34 L197.96,397.68 L199.34,398.02 L200.61,398.35 L201.75,398.67 L202.77,398.99 L203.67,399.31 L204.45,399.61 L205.11,399.91 L205.64,400.21 L206.06,400.49 L206.46,400.80 L206.85,401.14 L207.24,401.50 L207.61,401.88 L207.98,402.28 L208.33,402.71 L208.68,403.16 L209.02,403.64 L209.33,404.16 L209.62,404.72 L209.88,405.33 L210.12,405.98 L210.33,406.67 L210.52,407.41 L210.68,408.19 L210.82,409.01 L210.95,410.02 L211.07,411.20 L211.18,412.57 L211.29,414.11 L211.39,415.83 L211.48,417.74 L211.56,419.82 L211.64,422.08 L211.72,424.93 L211.80,428.37 L211.88,432.39 L211.97,437.01 L212.06,442.21 L212.15,447.99 L212.25,454.37 L212.35,461.33 L212.49,467.54 L212.66,472.99 L212.87,477.69 L213.12,481.63 L213.41,484.82 L213.74,487.26 L214.10,488.94 L214.50,489.86 L215.00,490.71 L215.60,491.48 L216.29,492.18 L217.08,492.80 L217.98,493.34 L218.97,493.80 L220.06,494.19 L221.24,494.51 L222.35,494.79 L223.39,495.04 L224.35,495.27 L225.23,495.46 L226.03,495.62 L226.76,495.76 L227.41,495.86 L227.99,495.94 L228.69,496.01 L229.51,496.08 L230.45,496.14 L231.52,496.21 L232.71,496.27 L234.03,496.32 L235.47,496.38 L237.03,496.43 L238.54,496.44 L239.99,496.42 L241.39,496.37 L242.73,496.28 L244.02,496.16 L245.26,496.00 L246.44,495.81 L247.56,495.59 L248.77,495.40 L250.06,495.26 L251.43,495.17 L252.89,495.11 L254.43,495.10 L256.05,495.12 L257.76,495.19 L259.54,495.31 L261.41,495.41 L263.35,495.52 L265.37,495.62 L267.46,495.71 L269.63,495.80 L271.88,495.88 L274.20,495.96 L276.60,496.04 L278.87,496.09 L281.02,496.13 L283.05,496.15 L284.95,496.15 L286.73,496.13 L288.38,496.09 L289.90,496.04 L291.30,495.96 L292.68,495.91 L294.03,495.89 L295.36,495.90 L296.67,495.93 L297.95,495.99 L299.21,496.07 L300.44,496.18 L301.66,496.32 L302.72,496.44 L303.63,496.54 L304.38,496.63 L304.99,496.70 L305.45,496.75 L305.75,496.78 L305.90,496.80 L306.50,508.50 L342.50,508.50" stroke="#222" stroke-width="1.1" fill="none" stroke-linejoin="round" stroke-linecap="round"/>
<path d="M119.60,508.50 L122.60,508.50 L122.60,352.20 L122.61,352.40 L122.62,352.81 L122.65,353.43 L122.68,354.25 L122.72,355.27 L122.76,356.50 L122.82,357.93 L122.88,359.57 L123.03,361.05 L123.28,362.37 L123.61,363.53 L124.04,364.53 L124.55,365.37 L125.16,366.05 L125.86,366.57 L126.64,366.93 L127.42,367.28 L128.19,367.62 L128.95,367.95 L129.70,368.27 L130.44,368.58 L131.17,368.88 L131.89,369.16 L132.61,369.44 L133.32,369.73 L134.03,370.04 L134.74,370.37 L135.46,370.72 L136.17,371.09 L136.88,371.48 L137.59,371.89 L138.31,372.31 L139.02,372.76 L139.73,373.22 L140.44,373.70 L141.16,374.20 L141.87,374.72 L142.58,375.26 L143.29,375.81 L144.01,376.39 L144.72,376.99 L145.43,377.62 L146.14,378.27 L146.86,378.95 L147.57,379.66 L148.28,380.40 L148.99,381.16 L149.71,381.94 L150.42,382.75 L151.13,383.57 L151.84,384.41 L152.56,385.27 L153.27,386.14 L153.98,387.03 L154.69,387.94 L155.41,388.86 L156.08,389.74 L156.71,390.57 L157.30,391.36 L157.85,392.09 L158.36,392.78 L158.83,393.43 L159.26,394.02 L159.64,394.57 L160.05,395.13 L160.48,395.70 L160.94,396.28 L161.41,396.87 L161.91,397.47 L162.43,398.07 L162.97,398.69 L163.53,399.31 L164.11,399.93 L164.70,400.53 L165.31,401.13 L165.94,401.72 L166.58,402.30 L167.23,402.87 L167.91,403.43 L168.59,403.98 L169.37,404.54 L170.23,405.13 L171.18,405.73 L172.22,406.35 L173.34,406.98 L174.56,407.64 L175.86,408.31 L177.24,408.99 L178.63,409.64 L180.01,410.24 L181.40,410.80 L182.78,411.32 L184.16,411.80 L185.54,412.23 L186.91,412.62 L188.29,412.97 L189.66,413.31 L191.04,413.62 L192.42,413.91 L193.80,414.19 L195.19,414.44 L196.57,414.68 L197.96,414.90 L199.34,415.10 L200.73,415.29 L202.11,415.46 L203.50,415.62 L204.88,415.78 L206.26,415.91 L207.64,416.04 L209.01,416.15 L210.39,416.25 L211.76,416.35 L213.14,416.44 L214.51,416.53 L215.89,416.62 L217.26,416.70 L218.64,416.78 L220.01,416.86 L221.39,416.94 L222.81,417.00 L224.27,417.06 L225.77,417.12 L227.32,417.16 L228.92,417.20 L230.56,417.22 L232.24,417.24 L233.96,417.26 L235.88,417.25 L237.98,417.24 L240.26,417.21 L242.74,417.17 L245.40,417.11 L248.25,417.04 L251.29,416.95 L254.51,416.85 L257.63,416.75 L260.65,416.66 L263.57,416.57 L266.38,416.48 L269.09,416.40 L271.70,416.32 L274.20,416.24 L276.60,416.16 L278.82,416.10 L280.85,416.04 L282.70,415.99 L284.37,415.96 L285.86,415.93 L287.16,415.91 L288.28,415.90 L289.22,415.90 L290.10,415.93 L290.92,415.99 L291.67,416.08 L292.38,416.20 L293.02,416.35 L293.60,416.52 L294.12,416.73 L294.58,416.97 L295.02,417.25 L295.44,417.57 L295.84,417.93 L296.21,418.34 L296.57,418.79 L296.90,419.28 L297.21,419.81 L297.49,420.39 L297.76,421.07 L298.01,421.85 L298.24,422.73 L298.46,423.72 L298.65,424.81 L298.83,426.00 L298.98,427.30 L299.12,428.70 L299.25,430.28 L299.38,432.03 L299.49,433.96 L299.61,436.07 L299.71,438.35 L299.81,440.81 L299.91,443.44 L299.99,446.26 L300.08,449.18 L300.16,452.23 L300.25,455.39 L300.33,458.66 L300.41,462.05 L300.49,465.56 L300.56,469.18 L300.64,472.92 L300.73,476.32 L300.85,479.39 L300.98,482.12 L301.14,484.51 L301.32,486.57 L301.51,488.29 L301.73,489.68 L301.97,490.73 L302.25,491.69 L302.57,492.56 L302.93,493.35 L303.34,494.05 L303.79,494.66 L304.28,495.19 L304.81,495.62 L305.39,495.97 L306.12,496.31 L307.03,496.63 L308.09,496.94 L309.31,497.23 L310.70,497.51 L312.25,497.78 L313.96,498.03 L315.84,498.27 L317.78,498.49 L319.80,498.70 L321.89,498.89 L324.06,499.06 L326.29,499.22 L328.60,499.37 L330.98,499.49 L333.42,499.61 L335.57,499.70 L337.41,499.79 L338.94,499.86 L340.16,499.92 L341.08,499.96 L341.69,499.99 L342.00,500.00" stroke="#f82020" stroke-width="1.1" fill="none" stroke-linejoin="round" stroke-linecap="round"/>
<path d="M269,336.4 H289.5" stroke="#3a3aff" stroke-width="1.3"/>
<text x="291.7" y="339.70" font-size="8.5">T = 10 <tspan font-size="5.95" dy="-3.06">o</tspan><tspan dy="3.06">C</tspan></text>
<path d="M269,349.6 H289.5" stroke="#3c3c3c" stroke-width="1.3"/>
<text x="291.7" y="352.91" font-size="8.5">T = 25 <tspan font-size="5.95" dy="-3.06">o</tspan><tspan dy="3.06">C</tspan></text>
<path d="M269,362.8 H289.5" stroke="#ff3030" stroke-width="1.3"/>
<text x="291.7" y="366.11" font-size="8.5">T = 40 <tspan font-size="5.95" dy="-3.06">o</tspan><tspan dy="3.06">C</tspan></text>
<text x="231" y="534.87" font-size="8.7" text-anchor="middle">Time [s]</text>
<text transform="translate(97.2,417) rotate(-90)" x="0" y="2.87" font-size="8.7" text-anchor="middle">Current [A]</text>
<rect x="422.1" y="330.5" width="295.29999999999995" height="250.20000000000005" fill="none" stroke="#bdbdbd" stroke-width="1.25"/>
<path d="M422.10,580.7 v-4 M422.10,330.5 v4 M430.30,580.7 v-2.5 M430.30,330.5 v2.5 M438.51,580.7 v-2.5 M438.51,330.5 v2.5 M446.71,580.7 v-2.5 M446.71,330.5 v2.5 M454.91,580.7 v-4 M454.91,330.5 v4 M463.11,580.7 v-2.5 M463.11,330.5 v2.5 M471.32,580.7 v-2.5 M471.32,330.5 v2.5 M479.52,580.7 v-2.5 M479.52,330.5 v2.5 M487.72,580.7 v-4 M487.72,330.5 v4 M495.93,580.7 v-2.5 M495.93,330.5 v2.5 M504.13,580.7 v-2.5 M504.13,330.5 v2.5 M512.33,580.7 v-2.5 M512.33,330.5 v2.5 M520.53,580.7 v-4 M520.53,330.5 v4 M528.74,580.7 v-2.5 M528.74,330.5 v2.5 M536.94,580.7 v-2.5 M536.94,330.5 v2.5 M545.14,580.7 v-2.5 M545.14,330.5 v2.5 M553.34,580.7 v-4 M553.34,330.5 v4 M561.55,580.7 v-2.5 M561.55,330.5 v2.5 M569.75,580.7 v-2.5 M569.75,330.5 v2.5 M577.95,580.7 v-2.5 M577.95,330.5 v2.5 M586.16,580.7 v-4 M586.16,330.5 v4 M594.36,580.7 v-2.5 M594.36,330.5 v2.5 M602.56,580.7 v-2.5 M602.56,330.5 v2.5 M610.76,580.7 v-2.5 M610.76,330.5 v2.5 M618.97,580.7 v-4 M618.97,330.5 v4 M627.17,580.7 v-2.5 M627.17,330.5 v2.5 M635.37,580.7 v-2.5 M635.37,330.5 v2.5 M643.58,580.7 v-2.5 M643.58,330.5 v2.5 M651.78,580.7 v-4 M651.78,330.5 v4 M659.98,580.7 v-2.5 M659.98,330.5 v2.5 M668.18,580.7 v-2.5 M668.18,330.5 v2.5 M676.39,580.7 v-2.5 M676.39,330.5 v2.5 M684.59,580.7 v-4 M684.59,330.5 v4 M692.79,580.7 v-2.5 M692.79,330.5 v2.5 M700.99,580.7 v-2.5 M700.99,330.5 v2.5 M709.20,580.7 v-2.5 M709.20,330.5 v2.5 M717.40,580.7 v-4 M717.40,330.5 v4 M422.1,580.70 h4 M717.4,580.70 h-4 M422.1,572.36 h2.5 M717.4,572.36 h-2.5 M422.1,564.02 h2.5 M717.4,564.02 h-2.5 M422.1,555.68 h2.5 M717.4,555.68 h-2.5 M422.1,547.34 h2.5 M717.4,547.34 h-2.5 M422.1,539.00 h4 M717.4,539.00 h-4 M422.1,530.66 h2.5 M717.4,530.66 h-2.5 M422.1,522.32 h2.5 M717.4,522.32 h-2.5 M422.1,513.98 h2.5 M717.4,513.98 h-2.5 M422.1,505.64 h2.5 M717.4,505.64 h-2.5 M422.1,497.30 h4 M717.4,497.30 h-4 M422.1,488.96 h2.5 M717.4,488.96 h-2.5 M422.1,480.62 h2.5 M717.4,480.62 h-2.5 M422.1,472.28 h2.5 M717.4,472.28 h-2.5 M422.1,463.94 h2.5 M717.4,463.94 h-2.5 M422.1,455.60 h4 M717.4,455.60 h-4 M422.1,447.26 h2.5 M717.4,447.26 h-2.5 M422.1,438.92 h2.5 M717.4,438.92 h-2.5 M422.1,430.58 h2.5 M717.4,430.58 h-2.5 M422.1,422.24 h2.5 M717.4,422.24 h-2.5 M422.1,413.90 h4 M717.4,413.90 h-4 M422.1,405.56 h2.5 M717.4,405.56 h-2.5 M422.1,397.22 h2.5 M717.4,397.22 h-2.5 M422.1,388.88 h2.5 M717.4,388.88 h-2.5 M422.1,380.54 h2.5 M717.4,380.54 h-2.5 M422.1,372.20 h4 M717.4,372.20 h-4 M422.1,363.86 h2.5 M717.4,363.86 h-2.5 M422.1,355.52 h2.5 M717.4,355.52 h-2.5 M422.1,347.18 h2.5 M717.4,347.18 h-2.5 M422.1,338.84 h2.5 M717.4,338.84 h-2.5 M422.1,330.50 h4 M717.4,330.50 h-4 " stroke="#bdbdbd" stroke-width="1" fill="none"/>
<text x="422.10" y="593.00" font-size="9.4" text-anchor="middle">0</text>
<text x="454.91" y="593.00" font-size="9.4" text-anchor="middle">20</text>
<text x="487.72" y="593.00" font-size="9.4" text-anchor="middle">40</text>
<text x="520.53" y="593.00" font-size="9.4" text-anchor="middle">60</text>
<text x="553.34" y="593.00" font-size="9.4" text-anchor="middle">80</text>
<text x="586.16" y="593.00" font-size="9.4" text-anchor="middle">100</text>
<text x="618.97" y="593.00" font-size="9.4" text-anchor="middle">120</text>
<text x="651.78" y="593.00" font-size="9.4" text-anchor="middle">140</text>
<text x="684.59" y="593.00" font-size="9.4" text-anchor="middle">160</text>
<text x="717.40" y="593.00" font-size="9.4" text-anchor="middle">180</text>
<text x="417.10" y="583.80" font-size="9.4" text-anchor="end">20</text>
<text x="417.10" y="542.10" font-size="9.4" text-anchor="end">30</text>
<text x="417.10" y="500.40" font-size="9.4" text-anchor="end">40</text>
<text x="417.10" y="458.70" font-size="9.4" text-anchor="end">50</text>
<text x="417.10" y="417.00" font-size="9.4" text-anchor="end">60</text>
<text x="417.10" y="375.30" font-size="9.4" text-anchor="end">70</text>
<text x="417.10" y="333.60" font-size="9.4" text-anchor="end">80</text>
<path d="M422.80,572.00 L423.30,500.00 L424.60,425.00 L425.46,421.12 L426.27,417.22 L427.11,413.32 L428.01,409.43 L429.04,405.57 L430.25,401.75 L431.70,397.98 L432.00,394.50 L433.20,394.39 L434.40,392.73 L435.60,390.99 L436.80,390.10 L438.00,388.46 L439.20,386.87 L440.40,385.42 L441.60,384.80 L442.80,384.19 L444.00,383.80 L445.20,383.54 L446.40,383.37 L447.60,383.06 L448.80,382.75 L450.00,382.30 L451.20,381.83 L452.40,381.47 L453.60,381.45 L454.80,381.09 L456.00,381.15 L457.20,381.08 L458.40,380.78 L459.60,380.45 L460.80,380.62 L462.00,380.65 L463.20,380.20 L464.40,379.80 L465.60,380.16 L466.80,380.70 L468.00,380.81 L469.20,380.64 L470.40,380.53 L471.60,380.25 L472.80,379.54 L474.00,379.29 L475.20,379.49 L476.40,379.59 L477.60,379.22 L478.80,379.05 L480.00,379.12 L481.20,379.14 L482.40,378.99 L483.60,378.96 L484.80,379.37 L486.00,379.64 L487.20,379.44 L488.40,378.96 L489.60,378.86 L490.80,378.84 L492.00,378.73 L493.20,378.76 L494.40,378.75 L495.60,378.84 L496.80,378.83 L498.00,379.22 L499.20,379.47 L500.40,379.71 L501.60,379.69 L502.80,379.44 L504.00,379.36 L505.20,379.20 L506.40,379.27 L507.60,379.10 L508.80,379.12 L510.00,378.82 L511.20,378.68 L512.40,379.09 L513.60,379.37 L514.80,379.51 L516.00,379.41 L517.20,379.73 L518.40,379.61 L519.60,379.52 L520.80,379.11 L522.00,379.01 L523.00,379.04 L524.50,378.93 L526.00,378.93 L527.50,378.89 L529.00,379.02 L530.50,379.09 L532.00,379.31 L533.50,379.43 L535.00,379.50 L536.50,379.39 L538.00,379.24 L539.50,379.30 L541.00,379.40 L542.50,379.52 L544.00,379.33 L545.50,379.28 L547.00,379.29 L548.50,379.31 L550.00,379.29 L551.50,379.25 L553.00,379.09 L554.50,378.90 L556.00,378.74 L557.50,378.60 L559.00,378.61 L560.50,378.83 L562.00,379.06 L563.50,379.07 L565.00,378.93 L566.50,378.56 L568.00,378.34 L569.50,378.46 L571.00,378.70 L572.50,378.63 L574.00,378.39 L575.50,378.14 L577.00,377.96 L578.50,377.77 L580.00,377.93 L581.50,378.12 L583.00,378.06 L584.50,377.79 L586.00,377.56 L587.50,377.49 L589.00,377.55 L590.50,377.75 L592.00,377.78 L593.50,377.54 L595.00,377.46 L596.50,377.60 L598.00,377.63 L599.50,377.31 L601.00,376.91 L602.50,376.73 L604.00,376.97 L605.50,377.17 L607.00,377.32 L608.50,377.03 L610.00,376.80 L611.50,376.71 L613.00,376.95 L614.50,376.96 L616.00,376.64 L617.50,376.56 L619.00,376.60 L620.50,376.73 L622.00,376.52 L623.50,376.57 L625.00,376.66 L626.50,376.86 L628.00,376.73 L629.50,376.67 L631.00,376.53 L632.50,376.47 L634.00,376.43 L635.50,376.73 L637.00,376.78 L638.50,376.92 L640.00,377.04 L641.50,377.41 L643.00,377.35 L644.50,377.20 L646.00,377.07 L647.50,377.37 L649.00,377.56 L650.40,374.10 L653.00,380.40 L654.39,383.31 L655.50,386.31 L656.38,389.39 L657.10,392.51 L657.73,395.66 L658.29,398.82 L658.80,401.98 L659.27,405.15 L659.71,408.33 L660.12,411.51 L660.51,414.70 L660.88,417.89 L661.25,421.08 L661.62,424.28 L661.99,427.47 L662.38,430.67 L662.78,433.87 L663.22,437.07 L663.68,440.27 L664.18,443.46 L664.69,446.66 L665.23,449.85 L665.79,453.04 L666.36,456.23 L666.94,459.41 L667.53,462.59 L668.12,465.76 L668.72,468.93 L669.31,472.09 L669.90,475.24 L670.49,478.39 L671.06,481.53 L671.62,484.67 L672.18,487.79 L672.76,490.92 L673.34,494.04 L673.96,497.16 L674.61,500.29 L675.30,503.41 L676.04,506.54 L676.84,509.67 L677.71,512.81 L678.64,515.93 L679.65,519.04 L680.73,522.13 L681.89,525.18 L683.14,528.20 L684.47,531.17 L685.90,534.08 L687.42,536.93 L689.03,539.71 L690.75,542.41 L692.57,545.02 L694.50,547.53 L696.55,549.95 L698.71,552.25 L700.99,554.44 L703.39,556.49 L705.93,558.42 L708.59,560.20 L711.39,561.82 L714.32,563.30 L717.40,564.60" stroke="#2a2aff" stroke-width="1.3" fill="none" stroke-linejoin="round" stroke-linecap="round"/>
<path d="M422.80,572.00 L423.50,500.00 L425.20,425.00 L425.96,421.29 L426.69,417.58 L427.43,413.87 L428.18,410.16 L428.97,406.46 L429.81,402.78 L430.74,399.13 L431.76,395.50 L432.90,391.91 L434.17,388.36 L435.61,384.86 L437.21,381.42 L438.98,378.06 L440.00,374.80 L441.20,374.38 L442.40,372.91 L443.60,371.17 L444.80,369.79 L446.00,368.29 L447.20,367.00 L448.40,365.52 L449.60,364.06 L450.80,362.69 L452.00,362.11 L453.20,361.57 L454.40,360.87 L455.60,360.39 L456.80,359.92 L458.00,359.63 L459.20,359.11 L460.40,359.09 L461.60,359.12 L462.80,359.23 L464.00,358.98 L465.20,358.67 L466.40,358.34 L467.60,358.25 L468.80,358.05 L470.00,357.77 L471.20,357.95 L472.40,358.38 L473.60,358.24 L474.80,357.39 L476.00,356.77 L477.20,356.98 L478.40,357.40 L479.60,357.20 L480.80,356.91 L482.00,356.49 L483.20,356.60 L484.40,356.69 L485.60,357.24 L486.80,357.12 L488.00,357.06 L489.20,357.09 L490.40,357.47 L491.60,357.03 L492.80,356.63 L494.00,356.77 L495.20,357.12 L496.40,357.24 L497.60,357.10 L498.80,357.30 L500.00,357.20 L501.20,356.89 L502.40,356.46 L503.60,356.30 L504.80,356.49 L506.00,357.08 L507.20,357.57 L508.40,357.89 L509.60,357.75 L510.80,357.75 L512.00,357.82 L513.20,358.11 L514.40,358.34 L515.60,358.39 L516.80,357.94 L518.00,357.52 L519.20,357.15 L520.40,357.38 L521.60,357.76 L522.80,358.07 L523.00,357.52 L524.50,357.49 L526.00,357.59 L527.50,357.81 L529.00,357.88 L530.50,357.96 L532.00,357.87 L533.50,357.93 L535.00,358.03 L536.50,358.22 L538.00,358.01 L539.50,357.83 L541.00,357.66 L542.50,357.55 L544.00,357.30 L545.50,357.35 L547.00,357.65 L548.50,357.66 L550.00,357.34 L551.50,357.21 L553.00,357.17 L554.50,357.20 L556.00,357.19 L557.50,357.35 L559.00,357.24 L560.50,357.17 L562.00,356.98 L563.50,356.89 L565.00,356.77 L566.50,357.08 L568.00,357.20 L569.50,357.00 L571.00,356.57 L572.50,356.42 L574.00,356.67 L575.50,356.73 L577.00,356.61 L578.50,356.67 L580.00,356.96 L581.50,356.95 L583.00,356.85 L584.50,356.65 L586.00,356.43 L587.50,356.24 L589.00,356.40 L590.50,356.71 L592.00,356.89 L593.50,356.92 L595.00,356.83 L596.50,356.71 L598.00,356.66 L599.50,356.65 L601.00,356.74 L602.50,356.63 L604.00,356.27 L605.50,355.94 L607.00,355.89 L608.50,355.98 L610.00,356.20 L611.50,356.18 L613.00,356.10 L614.50,356.14 L616.00,356.25 L617.50,356.02 L619.00,355.76 L620.50,355.70 L622.00,355.95 L623.50,356.00 L625.00,355.95 L626.50,355.94 L628.00,356.24 L629.50,356.38 L631.00,356.37 L632.50,356.10 L634.00,356.12 L635.50,356.08 L637.00,356.11 L638.50,356.00 L640.00,356.08 L641.50,356.30 L643.00,356.09 L644.50,356.02 L646.00,355.95 L647.50,356.36 L649.00,356.48 L650.50,356.35 L652.00,356.25 L653.50,356.32 L655.00,356.27 L656.50,355.94 L658.00,355.63 L659.50,355.33 L661.00,355.20 L662.50,355.22 L664.70,356.30 L669.30,353.00 L671.90,356.90 L676.50,348.10 L679.10,354.30 L680.15,357.65 L681.12,361.02 L682.01,364.41 L682.84,367.80 L683.61,371.21 L684.32,374.63 L684.97,378.06 L685.58,381.50 L686.14,384.95 L686.67,388.41 L687.17,391.87 L687.63,395.34 L688.08,398.81 L688.50,402.29 L688.91,405.77 L689.32,409.25 L689.72,412.73 L690.12,416.22 L690.53,419.70 L690.95,423.18 L691.39,426.66 L691.84,430.13 L692.33,433.60 L692.84,437.06 L693.39,440.52 L693.97,443.97 L694.57,447.42 L695.19,450.87 L695.82,454.31 L696.47,457.75 L697.12,461.19 L697.78,464.63 L698.47,468.06 L699.18,471.48 L699.93,474.90 L700.71,478.30 L701.54,481.70 L702.42,485.08 L703.35,488.45 L704.32,491.81 L705.34,495.16 L706.40,498.50 L707.49,501.82 L708.63,505.14 L709.80,508.44 L711.00,511.73 L712.23,515.01 L713.49,518.27 L714.77,521.53 L716.07,524.77 L717.40,528.00" stroke="#111111" stroke-width="1.3" fill="none" stroke-linejoin="round" stroke-linecap="round"/>
<path d="M422.80,572.00 L423.20,500.00 L423.90,425.00 L424.79,421.55 L425.32,417.99 L425.55,414.34 L425.56,410.61 L425.42,406.84 L425.20,403.03 L424.99,399.22 L424.85,395.42 L424.85,391.66 L425.08,387.95 L425.60,384.32 L426.49,380.79 L427.82,377.38 L429.68,374.17 L430.00,371.26 L431.20,371.40 L432.40,371.67 L433.60,371.18 L434.80,370.61 L436.00,369.68 L437.20,368.39 L438.40,367.49 L439.60,367.43 L440.80,368.12 L442.00,368.76 L443.20,368.99 L444.40,368.71 L445.60,367.45 L446.80,366.99 L448.00,366.50 L449.20,366.26 L450.40,366.14 L451.60,365.98 L452.80,365.88 L454.00,366.06 L455.20,366.33 L456.40,366.13 L457.60,366.19 L458.80,366.23 L460.00,366.03 L461.20,366.03 L462.40,366.51 L463.60,366.46 L464.80,366.01 L466.00,365.81 L467.20,365.83 L468.40,366.02 L469.60,365.96 L470.80,366.30 L472.00,366.65 L473.20,366.60 L474.40,366.29 L475.60,365.98 L476.80,366.02 L478.00,365.90 L479.20,366.17 L480.40,366.18 L481.60,366.19 L482.80,366.27 L484.00,366.37 L485.20,366.63 L486.40,366.34 L487.60,366.41 L488.80,366.18 L490.00,366.28 L491.20,366.20 L492.40,366.32 L493.60,366.28 L494.80,365.76 L496.00,365.32 L497.20,365.56 L498.40,366.11 L499.60,366.52 L500.80,366.75 L502.00,366.93 L503.20,366.35 L504.40,365.69 L505.60,365.67 L506.80,365.87 L508.00,366.27 L509.20,366.72 L510.40,367.17 L511.60,366.76 L512.80,366.57 L514.00,366.10 L515.20,365.77 L516.40,365.52 L517.60,366.01 L518.80,366.20 L520.00,365.87 L521.20,365.46 L522.40,365.52 L523.00,365.76 L524.50,365.64 L526.00,365.65 L527.50,365.70 L529.00,365.89 L530.50,366.03 L532.00,366.03 L533.50,365.87 L535.00,365.84 L536.50,365.97 L538.00,366.03 L539.50,365.99 L541.00,366.00 L542.50,365.77 L544.00,365.67 L545.50,365.52 L547.00,365.57 L548.50,365.54 L550.00,365.70 L551.50,365.55 L553.00,365.41 L554.50,365.23 L556.00,365.21 L557.50,365.26 L559.00,365.41 L560.50,365.42 L562.00,365.39 L563.50,365.51 L565.00,365.54 L566.50,365.27 L568.00,365.03 L569.50,364.95 L571.00,364.94 L572.50,364.91 L574.00,364.99 L575.50,365.23 L577.00,365.37 L578.50,365.20 L580.00,364.88 L581.50,364.78 L583.00,364.80 L584.50,364.72 L586.00,364.68 L587.50,364.71 L589.00,364.83 L590.50,364.98 L592.00,364.92 L593.50,364.72 L595.00,364.74 L596.50,365.07 L598.00,364.99 L599.50,364.68 L601.00,364.62 L602.50,364.90 L604.00,364.90 L605.50,364.66 L607.00,364.61 L608.50,364.84 L610.00,364.75 L611.50,364.64 L613.00,364.67 L614.50,364.80 L616.00,364.59 L617.50,364.27 L619.00,364.15 L620.50,364.38 L622.00,364.42 L623.50,364.22 L625.00,364.05 L626.50,364.07 L628.00,364.06 L629.50,363.93 L631.00,364.04 L632.50,364.25 L634.00,364.37 L635.50,364.18 L637.00,363.99 L638.50,364.02 L640.00,364.28 L641.50,364.50 L643.00,364.34 L644.50,363.89 L646.00,363.75 L647.50,364.02 L649.00,364.12 L650.50,363.98 L652.00,363.93 L653.50,363.91 L655.00,363.83 L656.50,363.48 L658.00,363.16 L659.50,362.81 L661.00,362.66 L662.50,362.62 L665.40,362.10 L666.70,357.60 L670.00,361.50 L670.92,364.77 L671.79,368.06 L672.61,371.35 L673.38,374.65 L674.11,377.96 L674.81,381.27 L675.46,384.59 L676.09,387.92 L676.69,391.25 L677.26,394.58 L677.82,397.92 L678.35,401.26 L678.87,404.61 L679.37,407.96 L679.87,411.31 L680.36,414.66 L680.85,418.02 L681.35,421.37 L681.84,424.73 L682.34,428.08 L682.85,431.44 L683.36,434.79 L683.89,438.14 L684.42,441.50 L684.97,444.85 L685.52,448.20 L686.10,451.54 L686.68,454.89 L687.29,458.23 L687.91,461.57 L688.55,464.91 L689.21,468.24 L689.90,471.57 L690.60,474.90 L691.34,478.22 L692.11,481.53 L692.91,484.83 L693.75,488.12 L694.63,491.39 L695.56,494.65 L696.54,497.89 L697.57,501.11 L698.65,504.31 L699.80,507.48 L701.01,510.62 L702.29,513.74 L703.63,516.83 L705.06,519.88 L706.56,522.90 L708.14,525.89 L709.81,528.84 L711.56,531.74 L713.41,534.61 L715.36,537.43 L717.40,540.20" stroke="#f82020" stroke-width="1.3" fill="none" stroke-linejoin="round" stroke-linecap="round"/>
<path d="M445.9,521.8 H472.8" stroke="#3a3aff" stroke-width="1.6"/>
<text x="475.5" y="526.19" font-size="11.8">T = 10 <tspan font-size="8.26" dy="-4.25">o</tspan><tspan dy="4.25">C</tspan></text>
<path d="M445.9,539.7 H472.8" stroke="#3c3c3c" stroke-width="1.6"/>
<text x="475.5" y="544.09" font-size="11.8">T = 25 <tspan font-size="8.26" dy="-4.25">o</tspan><tspan dy="4.25">C</tspan></text>
<path d="M445.9,557 H472.8" stroke="#ff3030" stroke-width="1.6"/>
<text x="475.5" y="561.39" font-size="11.8">T = 40 <tspan font-size="8.26" dy="-4.25">o</tspan><tspan dy="4.25">C</tspan></text>
<text x="569.8" y="611.91" font-size="11.85" text-anchor="middle">Time [min]</text>
<text transform="translate(391.6,453.6) rotate(-90)" x="0" y="3.91" font-size="11.85" text-anchor="middle">Cell Temperature [°C]</text>
<text x="431.5" y="352.6" font-size="17.5">(d)</text>
</svg></body></html>
